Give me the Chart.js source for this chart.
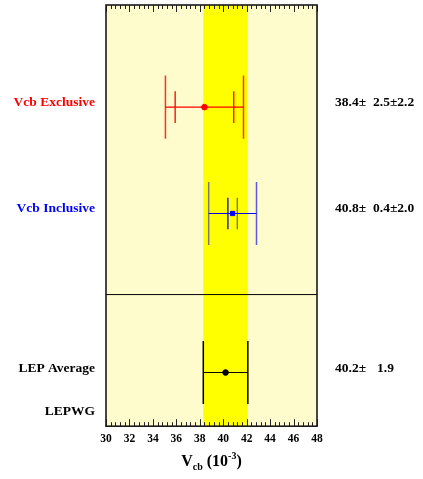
<!DOCTYPE html>
<html>
<head>
<meta charset="utf-8">
<script src="https://cdn.jsdelivr.net/npm/chart.js@4/dist/chart.umd.min.js"></script>
<style>
  body { margin: 0; background: #fff; }
  canvas { display: block; }
</style>
</head>
<body>
<canvas id="vcbChart" width="423" height="479"></canvas>
<script>
// Vcb measurements (units of 10^-3)
const labels = ["Vcb Exclusive", "Vcb Inclusive", "LEP Average"];
const central = [38.4, 40.8, 40.2];
const statErr = [2.5, 0.4, 1.9];
const systErr = [2.2, 2.0, 0];
const xTickValues = [30, 32, 34, 36, 38, 40, 42, 44, 46, 48];

// layout / styles
const rowY = [3.03, 2.02, 0.51];
const separatorY = 1.25;
const rowColors = ["#ff0000", "#0000ff", "#000000"];
const outerTickColors = [["#ff3030", "#ff3030"], ["#7a7a7a", "#5c5cd8"], ["#000", "#000"]];
const innerTickColors = [["#ff0000", "#ff0000"], ["#0000ff", "#707070"], ["#000", "#000"]];
const serif = "'Liberation Serif', 'Times New Roman', serif";

const totalErr = statErr.map((s, i) => Math.sqrt(s * s + systErr[i] * systErr[i]));
const fmt = v => v.toFixed(1);

function segment(x1, y1, x2, y2, color, width) {
  return {
    data: [{ x: x1, y: y1 }, { x: x2, y: y2 }],
    showLine: true,
    borderColor: color,
    borderWidth: width,
    pointRadius: 0,
    order: 2
  };
}

const datasets = [];
labels.forEach((name, i) => {
  const c = central[i], y = rowY[i], tot = totalErr[i], st = statErr[i];
  // horizontal error bar
  datasets.push(segment(c - tot, y, c + tot, y, rowColors[i], 1.2));
  // total error end ticks
  datasets.push(segment(c - tot, y - 0.3, c - tot, y + 0.3, outerTickColors[i][0], 1.5));
  datasets.push(segment(c + tot, y - 0.3, c + tot, y + 0.3, outerTickColors[i][1], 1.5));
  // statistical error ticks
  if (systErr[i] > 0) {
    datasets.push(segment(c - st, y - 0.15, c - st, y + 0.15, innerTickColors[i][0], 1.3));
    datasets.push(segment(c + st, y - 0.15, c + st, y + 0.15, innerTickColors[i][1], 1.3));
  }
  // central value
  datasets.push({
    data: [{ x: c, y: y }],
    pointRadius: i === 1 ? 3 : 2.8,
    pointStyle: i === 1 ? "rect" : "circle",
    backgroundColor: rowColors[i],
    borderColor: rowColors[i],
    borderWidth: 1,
    order: 0
  });
});
// line between measurements and average
datasets.push(segment(xTickValues[0], separatorY, xTickValues[xTickValues.length - 1], separatorY, "#000", 1));

const lepIdx = labels.length - 1;

const frame = {
  id: "frame",
  beforeDatasetsDraw(chart) {
    const { ctx, chartArea: a, scales: { x } } = chart;
    ctx.save();
    ctx.fillStyle = "#fefbcc";
    ctx.fillRect(a.left, a.top, a.right - a.left, a.bottom - a.top);
    // band of the LEP average
    const x1 = x.getPixelForValue(central[lepIdx] - totalErr[lepIdx]);
    const x2 = x.getPixelForValue(central[lepIdx] + totalErr[lepIdx]);
    ctx.fillStyle = "#ffff00";
    ctx.fillRect(x1, a.top, x2 - x1, a.bottom - a.top);
    ctx.restore();
  },
  afterDatasetsDraw(chart) {
    const { ctx, chartArea: a, scales: { x, y } } = chart;
    ctx.save();
    // axis ticks, top and bottom, pointing inward
    ctx.strokeStyle = "#222";
    ctx.lineWidth = 1;
    const lo = xTickValues[0], hi = xTickValues[xTickValues.length - 1];
    for (let k = 0; k <= (hi - lo) / 0.4 + 0.01; k++) {
      const v = lo + k * 0.4;
      const px = Math.round(x.getPixelForValue(v)) + 0.5;
      const len = k % 5 === 0 ? 7 : 4;
      ctx.beginPath();
      ctx.moveTo(px, a.bottom);
      ctx.lineTo(px, a.bottom - len);
      ctx.moveTo(px, a.top);
      ctx.lineTo(px, a.top + len);
      ctx.stroke();
    }
    ctx.lineWidth = 1.6;
    ctx.strokeStyle = "#1a1a1a";
    ctx.strokeRect(a.left, a.top, a.right - a.left, a.bottom - a.top);

    // row names and values
    ctx.font = "bold 13.5px " + serif;
    ctx.textBaseline = "middle";
    labels.forEach((name, i) => {
      const py = y.getPixelForValue(rowY[i]) - (i === lepIdx ? 4 : 5);
      ctx.fillStyle = rowColors[i];
      ctx.textAlign = "right";
      ctx.fillText(name, a.left - 11, py);
      ctx.fillStyle = "#000";
      ctx.textAlign = "left";
      const rest = systErr[i] > 0 ? fmt(statErr[i]) + "\u00b1" + fmt(systErr[i]) : fmt(totalErr[i]);
      ctx.fillText(fmt(central[i]) + "\u00b1", a.right + 18, py);
      ctx.fillText(rest, a.right + (systErr[i] > 0 ? 56 : 60), py);
    });
    ctx.fillStyle = "#000";
    ctx.textAlign = "right";
    ctx.fillText("LEPWG", a.left - 11, y.getPixelForValue(0.14));

    // axis title V_cb (10^-3)
    const big = "bold 16px " + serif, small = "bold 10px " + serif;
    const parts = [
      { t: "V", f: big, dy: 0 },
      { t: "cb", f: small, dy: 4 },
      { t: " (10", f: big, dy: 0 },
      { t: "-3", f: small, dy: -7 },
      { t: ")", f: big, dy: 0 }
    ];
    let w = 0;
    parts.forEach(p => { ctx.font = p.f; p.w = ctx.measureText(p.t).width; w += p.w; });
    let cx = (a.left + a.right) / 2 - w / 2;
    ctx.textAlign = "left";
    ctx.textBaseline = "alphabetic";
    parts.forEach(p => {
      ctx.font = p.f;
      ctx.fillText(p.t, cx, 466 + p.dy);
      cx += p.w;
    });
    ctx.restore();
  }
};

new Chart(document.getElementById("vcbChart"), {
  type: "scatter",
  data: { datasets: datasets },
  options: {
    responsive: false,
    animation: false,
    layout: { padding: { left: 106, right: 106, top: 4, bottom: 27 } },
    plugins: { legend: { display: false }, tooltip: { enabled: false } },
    scales: {
      x: {
        type: "linear",
        min: 30,
        max: 48,
        afterBuildTicks: s => { s.ticks = xTickValues.map(v => ({ value: v })); },
        ticks: { color: "#000", padding: 6, font: { family: serif, size: 11.5, weight: "bold" } },
        grid: { display: false, drawTicks: false, tickLength: 0 },
        border: { display: false }
      },
      y: { type: "linear", min: 0, max: 4, display: false }
    }
  },
  plugins: [frame]
});
</script>
</body>
</html>
